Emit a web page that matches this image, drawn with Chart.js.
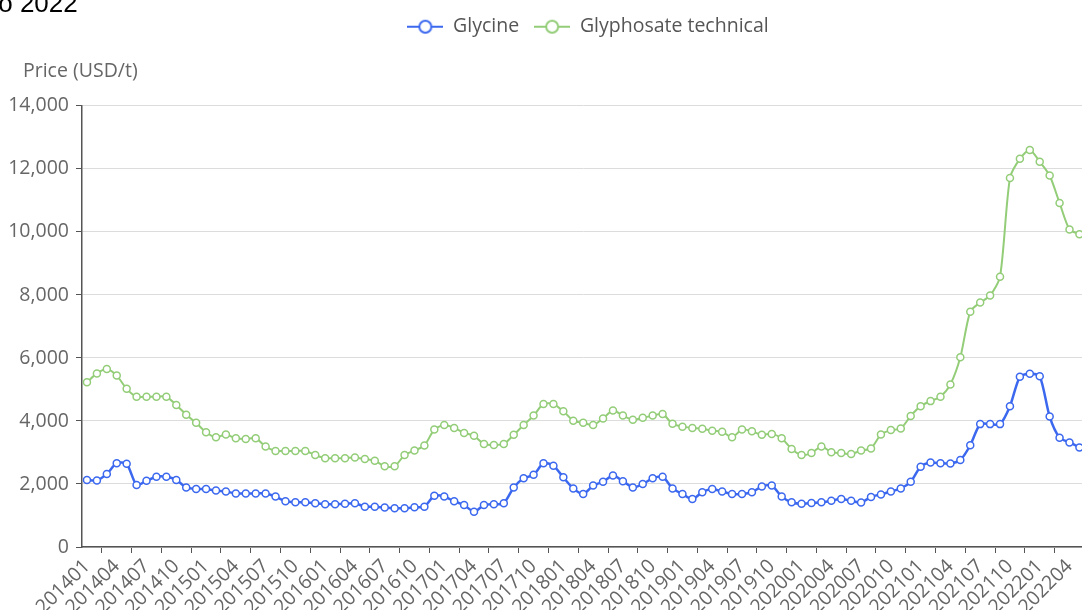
<!DOCTYPE html>
<html>
<head>
<meta charset="utf-8">
<script src="https://cdn.jsdelivr.net/npm/chart.js@4"></script>
<style>
  body { margin: 0; overflow: hidden; background: #fff; }
  .wrap { position: relative; width: 1082px; height: 610px; overflow: hidden; }
  .top-title {
    position: absolute; left: -9px; top: -10px;
    font: 26px "Liberation Sans", Arial, sans-serif; line-height: 26px;
    color: #000; white-space: nowrap;
  }
  canvas { position: absolute; left: 0; top: 0; }
</style>
</head>
<body>
<div class="wrap">
  <canvas id="price-chart" width="1098" height="610"></canvas>
  <div class="top-title">to 2022</div>
</div>
<script>
// monthly prices, 2014-01 .. 2022-05
const months = [
  "201401", "201402", "201403", "201404", "201405", "201406", "201407", "201408", "201409", "201410", "201411", "201412",
  "201501", "201502", "201503", "201504", "201505", "201506", "201507", "201508", "201509", "201510", "201511", "201512",
  "201601", "201602", "201603", "201604", "201605", "201606", "201607", "201608", "201609", "201610", "201611", "201612",
  "201701", "201702", "201703", "201704", "201705", "201706", "201707", "201708", "201709", "201710", "201711", "201712",
  "201801", "201802", "201803", "201804", "201805", "201806", "201807", "201808", "201809", "201810", "201811", "201812",
  "201901", "201902", "201903", "201904", "201905", "201906", "201907", "201908", "201909", "201910", "201911", "201912",
  "202001", "202002", "202003", "202004", "202005", "202006", "202007", "202008", "202009", "202010", "202011", "202012",
  "202101", "202102", "202103", "202104", "202105", "202106", "202107", "202108", "202109", "202110", "202111", "202112",
  "202201", "202202", "202203", "202204", "202205"
];

const glycine = [
  2130, 2110, 2320, 2660, 2640, 1970, 2100, 2230, 2230, 2130,
  1890, 1840, 1840, 1790, 1760, 1700, 1700, 1700, 1700, 1600,
  1450, 1420, 1420, 1390, 1360, 1360, 1370, 1390, 1280, 1280,
  1250, 1230, 1230, 1260, 1280, 1630, 1600, 1450, 1330, 1120,
  1330, 1360, 1390, 1890, 2180, 2290, 2660, 2580, 2210, 1860,
  1680, 1950, 2070, 2270, 2090, 1890, 2000, 2180, 2230, 1860,
  1680, 1520, 1740, 1840, 1760, 1680, 1680, 1740, 1920, 1950,
  1600, 1420, 1370, 1400, 1420, 1470, 1520, 1470, 1410, 1590,
  1670, 1760, 1860, 2070, 2550, 2680, 2660, 2650, 2760, 3230,
  3900, 3900, 3900, 4470, 5400, 5500, 5420, 4140, 3470, 3320,
  3160
];

const glyphosate = [
  5230, 5510, 5650, 5440, 5020, 4770, 4770, 4770, 4770, 4510,
  4200, 3940, 3640, 3480, 3570, 3450, 3430, 3450, 3190, 3050,
  3050, 3050, 3050, 2920, 2820, 2820, 2820, 2840, 2790, 2740,
  2560, 2560, 2920, 3060, 3220, 3730, 3870, 3780, 3620, 3530,
  3270, 3240, 3270, 3560, 3870, 4170, 4540, 4540, 4310, 4010,
  3940, 3870, 4080, 4330, 4170, 4040, 4100, 4170, 4220, 3910,
  3820, 3780, 3750, 3690, 3660, 3480, 3730, 3670, 3560, 3590,
  3450, 3110, 2920, 2980, 3190, 3010, 2980, 2950, 3060, 3130,
  3570, 3710, 3760, 4160, 4470, 4630, 4770, 5160, 6020, 7470,
  7760, 7980, 8580, 11710, 12320, 12600, 12230, 11790, 10920, 10080,
  9930
];

const seriesNames = ["Glycine", "Glyphosate technical"];
const yTicks = [0, 2000, 4000, 6000, 8000, 10000, 12000, 14000];

const BLUE = "#3b68ef";
const GREEN = "#93cd78";
const FONT = "'Open Sans', 'Noto Sans', sans-serif";
const FONT_SIZE = 19.5;

// legend icon: short line with a hollow circle, like the original
function legendIcon(color) {
  const c = document.createElement("canvas");
  c.width = 36;
  c.height = 16;
  const g = c.getContext("2d");
  g.strokeStyle = color;
  g.lineWidth = 2;
  g.beginPath();
  g.moveTo(0, 8);
  g.lineTo(36, 8);
  g.stroke();
  g.beginPath();
  g.arc(18, 8, 6, 0, Math.PI * 2);
  g.fillStyle = "#fff";
  g.fill();
  g.stroke();
  return c;
}
const icons = [legendIcon(BLUE), legendIcon(GREEN)];

// move legend / axis name to where the original had them
const placeBoxes = {
  id: "placeBoxes",
  afterLayout(chart) {
    const lg = chart.legend;
    if (lg) {
      const dx = 588 - (lg.left + lg.right) / 2;
      lg.left += dx;
      lg.right += dx;
    }
    const tb = chart.titleBlock;
    if (tb) {
      tb.left += 23;
      tb.right += 23;
    }
  },
};

new Chart(document.getElementById("price-chart"), {
  type: "line",
  data: {
    labels: months,
    datasets: [
      {
        label: seriesNames[0],
        data: glycine,
        borderColor: BLUE,
        borderWidth: 2.5,
        pointRadius: 3.5,
        pointBorderWidth: 1.5,
        pointBackgroundColor: "#fff",
        pointBorderColor: BLUE,
        tension: 0.25,
      },
      {
        label: seriesNames[1],
        data: glyphosate,
        borderColor: GREEN,
        borderWidth: 2,
        pointRadius: 3.5,
        pointBorderWidth: 1.5,
        pointBackgroundColor: "#fff",
        pointBorderColor: GREEN,
        tension: 0.25,
      },
    ],
  },
  options: {
    responsive: false,
    animation: false,
    layout: { padding: { top: 2, left: 0, right: 0, bottom: 0 } },
    plugins: {
      legend: {
        position: "top",
        labels: {
          color: "#555",
          font: { family: FONT, size: FONT_SIZE },
          usePointStyle: true,
          pointStyleWidth: 36,
          padding: 15,
          generateLabels(chart) {
            const items = Chart.defaults.plugins.legend.labels.generateLabels(chart);
            items.forEach((it, i) => (it.pointStyle = icons[i]));
            return items;
          },
        },
      },
      title: {
        display: true,
        text: "Price (USD/t)",
        align: "start",
        weight: 900,
        color: "#666",
        font: { family: FONT, size: FONT_SIZE, weight: "normal" },
        padding: { top: 13, bottom: 23 },
      },
      tooltip: { enabled: false },
    },
    scales: {
      x: {
        offset: true,
        grid: {
          drawOnChartArea: false,
          offset: true,
          tickLength: 6,
          // tick marks sit between the labelled months, as in the original
          tickColor: (ctx) => (ctx.index % 3 === 2 ? "#555" : "rgba(0,0,0,0)"),
        },
        border: { color: "#555", width: 1.5 },
        ticks: {
          autoSkip: false,
          maxRotation: 45,
          minRotation: 45,
          color: "#666",
          font: { family: FONT, size: FONT_SIZE },
          padding: 2,
          callback: (v, i) => (i % 3 === 0 ? months[i] : ""),
        },
        afterFit(scale) {
          scale.height = 63;
        },
      },
      y: {
        min: yTicks[0],
        max: yTicks[yTicks.length - 1],
        grid: {
          color: "#dcdcdc",
          tickLength: 6,
          tickColor: "#555",
        },
        border: { color: "#555", width: 1.5 },
        ticks: {
          stepSize: yTicks[1] - yTicks[0],
          color: "#666",
          padding: 7,
          font: { family: FONT, size: FONT_SIZE },
          callback: (v) => v.toLocaleString("en-US"),
        },
        afterFit(scale) {
          scale.width = 82;
        },
      },
    },
  },
  plugins: [placeBoxes],
});
</script>
</body>
</html>
